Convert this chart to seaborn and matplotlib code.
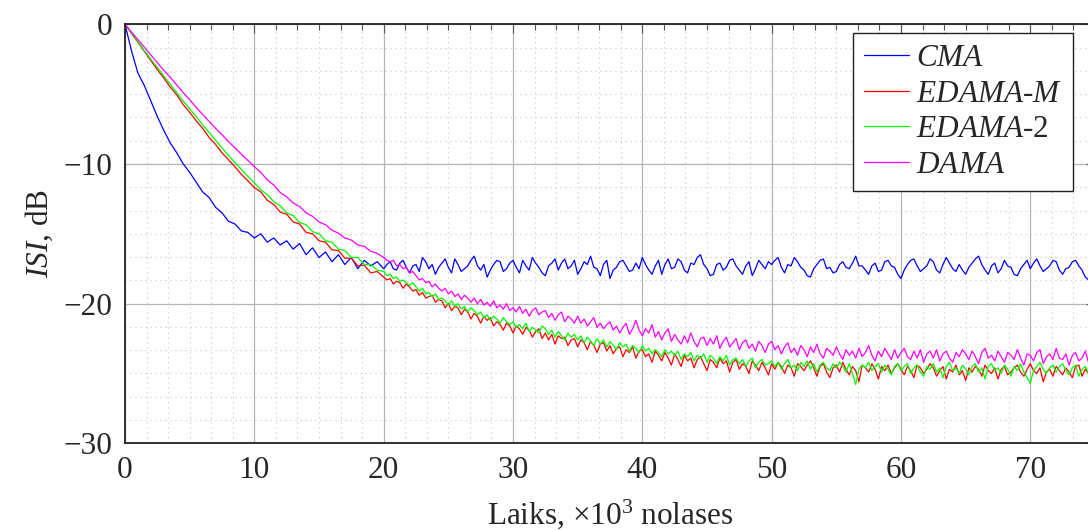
import numpy as np
import pandas as pd
import matplotlib
matplotlib.use("Agg")
import matplotlib.pyplot as plt
from matplotlib.ticker import AutoMinorLocator
import seaborn as sns

# ---------------- data ----------------
# Laiks, x10^3 nolases: coarse sampling during convergence, finer afterwards
samples_early = np.arange(0, 20, 0.5)          # 40 points
samples_late = np.arange(20, 75.001, 0.25)     # 221 points

cma_early = [
    0.0, -1.9, -3.5, -4.4, -5.5, -6.6, -7.6, -8.5, -9.2, -10.0,
    -10.6, -11.3, -12.0, -12.4, -13.1, -13.5, -14.1, -14.3, -14.8, -14.9,
    -15.3, -15.0, -15.6, -15.3, -15.8, -15.5, -16.1, -15.7, -16.5, -16.0,
    -16.7, -16.3, -17.0, -16.5, -17.2, -16.7, -17.5, -16.9, -17.3, -17.0,
]
cma_late = [
    -17.5, -17.2, -17.0, -17.5, -17.6, -17.1, -16.9, -17.4, -17.8, -17.3,
    -17.2, -17.7, -16.7, -17.0, -17.5, -17.2, -17.9, -17.4, -17.1, -16.8,
    -17.4, -17.8, -16.8, -17.2, -17.7, -17.5, -17.3, -16.9, -16.6, -17.3,
    -17.6, -17.2, -18.1, -17.6, -17.2, -16.9, -17.0, -17.7, -17.5, -17.1,
    -16.9, -17.4, -17.8, -16.9, -17.3, -17.6, -16.7, -17.1, -17.4, -17.8,
    -18.0, -17.3, -17.1, -16.8, -17.6, -17.1, -16.8, -17.5, -17.3, -16.9,
    -17.9, -17.5, -17.0, -17.2, -16.6, -17.4, -17.5, -18.0, -17.2, -16.9,
    -18.2, -17.6, -17.4, -17.0, -16.9, -17.3, -17.7, -17.6, -17.1, -17.5,
    -16.7, -17.2, -17.6, -17.9, -17.3, -16.9, -17.9, -17.2, -16.8, -17.5,
    -17.4, -16.8, -17.0, -17.6, -17.8, -17.1, -17.2, -16.7, -16.5, -17.2,
    -17.5, -18.0, -17.9, -17.2, -17.1, -17.6, -17.4, -16.9, -16.8, -17.3,
    -17.6, -17.9, -17.3, -17.0, -18.0, -17.5, -16.9, -17.2, -17.5, -17.0,
    -17.2, -16.9, -16.7, -17.4, -17.8, -17.2, -17.3, -16.7, -17.0, -17.4,
    -17.6, -18.0, -18.1, -17.5, -17.2, -16.9, -16.8, -17.5, -17.4, -17.8,
    -17.7, -17.2, -17.0, -17.4, -17.5, -17.1, -16.6, -17.3, -17.3, -17.6,
    -17.9, -17.3, -17.1, -17.7, -17.6, -17.0, -16.9, -17.3, -17.4, -17.9,
    -18.2, -17.6, -17.2, -16.9, -16.8, -17.3, -17.7, -17.5, -17.3, -16.8,
    -17.0, -17.6, -17.8, -17.2, -16.7, -17.1, -17.5, -17.7, -17.2, -17.6,
    -17.9, -17.4, -17.1, -16.8, -16.6, -17.2, -17.6, -17.9, -17.3, -17.1,
    -17.8, -17.5, -16.9, -17.3, -17.4, -17.9, -18.0, -17.5, -17.2, -16.9,
    -17.5, -17.1, -16.8, -17.3, -17.7, -17.5, -17.3, -16.9, -17.0, -17.6,
    -17.9, -17.5, -17.4, -17.0, -16.9, -17.3, -17.6, -18.1, -18.3, -17.9,
    -17.8,
]

edama_m_early = [
    0.0, -0.65, -1.3, -1.95, -2.6, -3.25, -3.85, -4.5, -5.05, -5.75,
    -6.3, -6.9, -7.45, -8.1, -8.6, -9.2, -9.7, -10.2, -10.75, -11.2,
    -11.7, -12.0, -12.6, -12.9, -13.45, -13.6, -14.15, -14.3, -14.9, -15.0,
    -15.5, -15.6, -16.15, -16.2, -16.75, -16.75, -17.3, -17.25, -17.8, -17.7,
]
edama_m_late = [
    -18.1, -18.3, -18.2, -18.6, -18.4, -18.5, -18.9, -18.6, -18.8, -19.1,
    -19.0, -19.4, -19.2, -19.6, -19.5, -19.4, -19.9, -19.7, -19.8, -20.3,
    -20.0, -20.5, -20.2, -20.3, -20.8, -20.4, -20.6, -21.1, -20.7, -20.9,
    -21.4, -20.9, -21.2, -21.0, -21.6, -21.3, -21.5, -21.9, -21.4, -21.6,
    -22.1, -21.6, -21.8, -22.2, -21.7, -21.9, -22.4, -22.0, -21.8, -22.5,
    -22.1, -22.6, -22.2, -22.9, -22.3, -22.5, -22.4, -23.0, -22.6, -22.5,
    -23.1, -22.6, -22.8, -23.3, -22.7, -23.0, -23.5, -22.9, -22.8, -23.4,
    -23.0, -23.6, -23.2, -23.1, -23.8, -23.3, -23.5, -23.1, -23.9, -23.4,
    -23.3, -23.8, -23.6, -24.2, -23.4, -23.7, -24.1, -23.5, -23.9, -24.4,
    -23.6, -24.0, -24.5, -23.7, -24.1, -23.9, -24.6, -24.0, -23.8, -24.3,
    -24.8, -24.0, -24.2, -24.6, -23.9, -24.3, -24.1, -24.9, -24.2, -24.0,
    -24.7, -24.3, -24.5, -25.0, -24.1, -24.4, -24.8, -24.2, -24.6, -25.1,
    -24.3, -24.7, -24.2, -24.5, -25.0, -24.4, -24.6, -25.2, -24.3, -24.5,
    -24.8, -24.4, -24.1, -24.6, -25.2, -24.5, -24.3, -24.9, -25.3, -24.6,
    -24.4, -24.9, -24.2, -24.7, -25.1, -24.5, -24.8, -25.6, -24.4, -24.6,
    -24.9, -24.3, -24.7, -25.4, -24.5, -24.8, -24.4, -25.0, -24.6, -24.3,
    -24.7, -25.1, -24.5, -24.8, -25.3, -24.4, -24.6, -25.0, -24.7, -24.3,
    -24.6, -25.2, -24.8, -24.5, -25.4, -24.7, -24.9, -24.4, -25.1, -24.8,
    -25.5, -24.6, -24.9, -24.5, -24.7, -25.2, -24.4, -24.8, -25.0, -24.6,
    -25.4, -24.7, -24.5, -25.1, -24.9, -24.6, -24.4, -24.9, -25.2, -24.7,
    -24.3, -24.8, -25.0, -24.6, -25.6, -24.9, -24.7, -25.2, -24.5, -24.8,
    -25.1, -24.6, -24.9, -25.3, -24.5, -24.4, -25.2, -24.7, -25.0, -24.6,
    -24.8,
]

edama_2_early = [
    0.0, -0.6, -1.25, -1.9, -2.5, -3.1, -3.7, -4.3, -4.9, -5.5,
    -6.05, -6.6, -7.2, -7.75, -8.3, -8.85, -9.4, -9.9, -10.4, -10.9,
    -11.35, -11.85, -12.2, -12.7, -13.0, -13.5, -13.7, -14.2, -14.35, -14.85,
    -15.0, -15.5, -15.6, -16.1, -16.2, -16.7, -16.7, -17.2, -17.2, -17.6,
]
edama_2_late = [
    -17.7, -18.0, -17.9, -18.2, -18.1, -18.4, -18.3, -18.5, -18.7, -18.5,
    -18.8, -19.1, -18.9, -19.3, -19.2, -19.5, -19.3, -19.7, -19.6, -19.8,
    -20.1, -19.8, -20.2, -20.0, -20.4, -20.2, -20.6, -20.3, -20.5, -20.8,
    -20.6, -21.0, -20.8, -21.2, -20.9, -21.1, -21.4, -21.0, -21.3, -21.5,
    -21.3, -21.7, -21.5, -21.8, -21.4, -22.0, -21.7, -21.9, -22.1, -21.6,
    -21.8, -22.2, -21.9, -22.4, -22.0, -22.3, -22.6, -22.1, -22.4, -22.2,
    -22.6, -22.3, -22.8, -22.4, -22.7, -23.0, -22.5, -22.9, -22.6, -23.1,
    -22.7, -23.0, -23.3, -22.8, -23.1, -22.9, -23.4, -23.0, -23.2, -23.5,
    -23.0, -23.4, -23.2, -23.6, -23.3, -23.5, -23.8, -23.3, -23.6, -23.4,
    -23.7, -23.4, -24.0, -23.6, -23.8, -23.5, -24.1, -23.7, -23.9, -23.6,
    -24.2, -23.7, -23.9, -24.3, -23.8, -24.1, -23.7, -24.4, -24.0, -23.9,
    -24.3, -24.0, -24.5, -24.1, -23.9, -24.6, -24.2, -24.0, -24.4, -24.3,
    -24.1, -24.5, -24.2, -24.7, -24.3, -24.0, -24.6, -24.4, -24.8, -24.2,
    -24.5, -24.1, -24.7, -24.3, -24.9, -24.4, -24.2, -24.6, -24.8, -24.3,
    -24.6, -24.2, -24.5, -24.9, -24.3, -25.0, -25.8, -24.7, -24.4, -24.6,
    -24.2, -24.8, -24.5, -24.3, -24.9, -24.4, -24.7, -25.1, -24.5, -24.3,
    -24.8, -24.5, -24.3, -25.0, -24.6, -24.4, -24.9, -25.2, -24.5, -24.7,
    -24.3, -24.9, -24.6, -25.3, -24.5, -24.2, -24.8, -24.6, -25.0, -24.4,
    -24.7, -25.1, -24.5, -24.3, -24.9, -24.6, -25.4, -24.5, -24.3, -24.8,
    -24.6, -25.0, -24.4, -24.7, -25.2, -24.5, -24.8, -24.3, -24.9, -25.3,
    -25.7, -24.8, -24.5, -24.2, -24.7, -25.0, -24.6, -24.4, -24.9, -24.5,
    -24.3, -24.8, -25.1, -24.6, -24.4, -25.2, -24.7, -24.5, -25.0, -24.8,
    -24.9,
]

dama_early = [
    0.0, -0.55, -1.1, -1.65, -2.2, -2.75, -3.3, -3.8, -4.35, -4.9,
    -5.4, -5.95, -6.45, -6.95, -7.45, -7.9, -8.4, -8.85, -9.3, -9.75,
    -10.2, -10.6, -11.15, -11.5, -12.05, -12.35, -12.8, -13.05, -13.5, -13.75,
    -14.15, -14.35, -14.75, -14.95, -15.3, -15.45, -15.8, -15.9, -16.25, -16.4,
]
dama_late = [
    -16.7, -16.9, -17.0, -16.9, -17.3, -17.2, -17.5, -17.4, -17.8, -17.7,
    -18.0, -18.3, -18.2, -18.5, -18.4, -18.8, -18.6, -18.9, -19.1, -18.9,
    -19.3, -19.1, -19.5, -19.3, -19.7, -19.4, -19.6, -19.9, -19.6, -20.0,
    -19.7, -20.1, -19.9, -20.2, -19.8, -20.3, -20.1, -20.4, -20.0, -20.5,
    -20.3, -20.6, -20.2, -20.7, -20.4, -20.9, -20.5, -20.3, -20.8, -20.6,
    -20.5, -21.0, -20.7, -21.2, -20.8, -20.6, -21.3, -20.9, -21.1, -21.4,
    -20.9, -21.4, -21.1, -21.6, -21.3, -21.0, -21.7, -21.4, -21.8, -21.5,
    -21.3, -21.9, -21.6, -22.1, -21.7, -21.4, -22.2, -21.8, -21.2, -21.9,
    -22.3, -21.8, -22.1, -21.5, -22.4, -22.0, -22.6, -22.1, -21.8, -22.7,
    -22.2, -22.6, -22.9, -22.3, -22.8, -22.1, -22.7, -23.1, -22.5, -22.4,
    -23.0, -22.5, -22.9, -22.3, -23.2, -22.7, -22.4, -23.1, -22.8, -22.5,
    -23.3, -22.8, -22.6, -23.2, -22.9, -23.4, -22.7, -23.0, -23.5, -22.9,
    -22.7, -23.3, -23.0, -23.6, -23.1, -22.8, -23.5, -23.2, -23.7, -23.0,
    -23.3, -23.8, -23.1, -23.5, -22.9, -23.6, -23.9, -23.2, -23.4, -23.7,
    -23.1, -23.6, -24.0, -23.3, -23.7, -23.4, -23.9, -23.2, -23.8, -23.5,
    -23.0, -23.7, -24.1, -23.4, -23.8, -23.2, -23.6, -24.0, -23.3, -23.9,
    -23.5, -23.2, -23.8, -24.0, -23.4, -23.9, -23.3, -24.2, -23.6, -23.4,
    -23.9, -23.3, -24.1, -23.6, -23.4, -23.9, -24.2, -23.5, -23.8, -23.3,
    -23.6, -24.0, -23.4, -23.8, -24.3, -23.5, -23.2, -23.9, -23.7, -24.1,
    -23.4, -23.8, -24.2, -23.5, -23.7, -24.0, -23.3, -23.9, -24.4, -23.6,
    -23.7, -24.1, -23.5, -23.3, -24.3, -23.8, -23.6, -24.0, -23.2, -23.9,
    -24.0, -23.6, -24.4, -23.7, -23.5, -24.1, -23.9, -23.4, -24.2, -23.7,
    -24.1,
]

methods = ["CMA", "EDAMA-M", "EDAMA-2", "DAMA"]
legend_labels = [r"$CMA$", r"$EDAMA$-$M$", r"$EDAMA$-2", r"$DAMA$"]
colors = ["#0000ff", "#ff0000", "#00ff00", "#ff00ff"]
x_ticks = [0, 10, 20, 30, 40, 50, 60, 70]
y_ticks = [0, -10, -20, -30]

# ---------------- figure ----------------
sns.set_style("white")
plt.rcParams["font.family"] = ["Liberation Serif", "DejaVu Serif"]
plt.rcParams["mathtext.fontset"] = "custom"
plt.rcParams["mathtext.rm"] = "Liberation Serif"
plt.rcParams["mathtext.it"] = "Liberation Serif:italic"
plt.rcParams["axes.unicode_minus"] = True

samples_k = np.concatenate([samples_early, samples_late])
series = {
    "CMA": cma_early + cma_late,
    "EDAMA-M": edama_m_early + edama_m_late,
    "EDAMA-2": edama_2_early + edama_2_late,
    "DAMA": dama_early + dama_late,
}
df = pd.concat([
    pd.DataFrame({"k": samples_k, "isi": series[m], "method": m})
    for m in methods
], ignore_index=True)

fig = plt.figure(figsize=(10.88, 5.30), dpi=100)
ax = fig.add_axes([0.1149, 0.1636, 0.8915, 0.7906])

sns.lineplot(data=df, x="k", y="isi", hue="method", hue_order=methods,
             palette=dict(zip(methods, colors)), estimator=None, sort=False,
             linewidth=0.9, legend=False, ax=ax)

ax.set_xlim(0, 75)
ax.set_ylim(-30, 0)
ax.set_xticks(x_ticks)
ax.set_yticks(y_ticks)
ax.xaxis.set_minor_locator(AutoMinorLocator(6))
ax.yaxis.set_minor_locator(AutoMinorLocator(6))

ax.grid(which="major", color="#b5b5b5", linestyle="-", linewidth=0.9)
ax.grid(which="minor", color="#c4c4c4", linestyle=(0, (1, 3.5)), linewidth=0.8)
ax.set_axisbelow(True)

ax.tick_params(which="both", direction="in", top=True, right=True,
               color="#555555", labelsize=22.5)
ax.tick_params(which="major", length=6.5, width=0.8, pad=9)
ax.tick_params(which="minor", length=4, width=0.8)
for sp in ax.spines.values():
    sp.set_color("#222222")
    sp.set_linewidth(1.3)

ax.set_xlabel(r"Laiks, $\times$10$^3$ nolases", fontsize=22.5, labelpad=9)
ax.set_ylabel(r"$ISI$, dB", fontsize=22.5, labelpad=6)

handles = ax.lines[:4]
leg = fig.legend(handles, legend_labels, loc="upper right",
                 bbox_to_anchor=(0.9862, 0.9377), borderaxespad=0,
                 fontsize=22.5, frameon=True, fancybox=False, framealpha=1,
                 edgecolor="#222222", handlelength=1.45, handletextpad=0.22,
                 labelspacing=0.22, borderpad=0.34)
leg.get_frame().set_linewidth(1.0)

fig.savefig("out.png", dpi=100)
